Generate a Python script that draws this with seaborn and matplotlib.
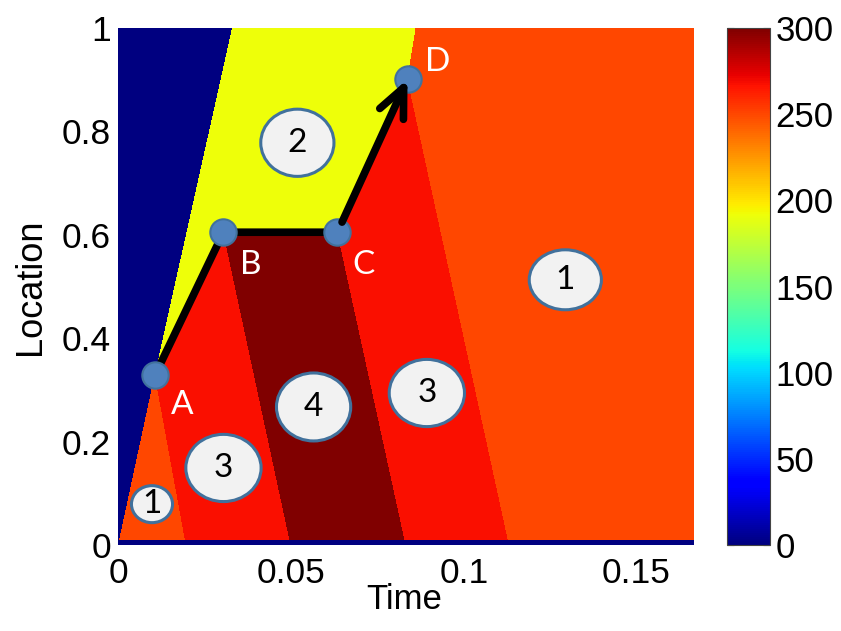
import numpy as np
import matplotlib
matplotlib.use("Agg")
import matplotlib.pyplot as plt
from matplotlib.patches import Ellipse
import seaborn as sns

# ------------------------------------------------------------------ data
T_MAX = 1 / 6
X_TICKS = [0, 0.05, 0.1, 0.15]
X_TICK_LABELS = ["0", "0.05", "0.1", "0.15"]
Y_TICKS = [0, 0.2, 0.4, 0.6, 0.8, 1.0]
Y_TICK_LABELS = ["0", "0.2", "0.4", "0.6", "0.8", "1"]
CBAR_TICKS = [0, 50, 100, 150, 200, 250, 300]

# trajectory points (time, location)
POINT_NAMES = ["A", "B", "C", "D"]
POINT_T = [0.0106, 0.0304, 0.0634, 0.0837]
POINT_Y = [0.329, 0.605, 0.605, 0.901]

# region values (0 = empty, 1..4 = numbered states)
REGION_VALUES = [0, 250, 192, 268, 300]

# boundary of the empty (blue) region
EMPTY_EDGE_T = [0.0, 0.0106, 0.033]
EMPTY_EDGE_Y = [0.0, 0.329, 1.0]
# feet (at location 0) of the lines that leave A, B, C, D downwards
FAN_FOOT_T = [0.0196, 0.0499, 0.0832, 0.1131]
# time where the line leaving D upwards hits location 1
D_TOP_T = 0.0861
BOTTOM_STRIP = 0.0097

# circled region labels
LABEL_TEXT = ["2", "1", "4", "3", "3", "1"]
LABEL_T = [0.0518, 0.1294, 0.0565, 0.0893, 0.0304, 0.0097]
LABEL_Y = [0.778, 0.513, 0.267, 0.294, 0.149, 0.079]
LABEL_W = [0.0212, 0.0209, 0.0215, 0.0218, 0.0218, 0.0119]
LABEL_H = [0.130, 0.116, 0.1315, 0.130, 0.130, 0.0716]

# point letters
LETTER_T = [0.0184, 0.0382, 0.0710, 0.0925]
LETTER_Y = [0.271, 0.542, 0.542, 0.934]

# ------------------------------------------------------------------ field
NT, NY = 576, 517
t = (np.arange(NT) + 0.5) * T_MAX / NT
y = (np.arange(NY) + 0.5) / NY
TT, YY = np.meshgrid(t, y)


def line_t(yy, tp, yp, foot):
    return foot + (tp - foot) * yy / yp


L = [line_t(YY, POINT_T[i], POINT_Y[i], FAN_FOOT_T[i]) for i in range(4)]
blue_edge = np.interp(YY, EMPTY_EDGE_Y, EMPTY_EDGE_T)
path_y = np.interp(TT, POINT_T, POINT_Y)
d_top = POINT_T[3] + (D_TOP_T - POINT_T[3]) * (YY - POINT_Y[3]) / (1 - POINT_Y[3])

region = np.where(TT < L[0], 1,
         np.where(TT < L[1], 3,
         np.where(TT < L[2], 4,
         np.where(TT < L[3], 3, 1))))
upper = YY >= POINT_Y[3]
above_path = (TT >= POINT_T[0]) & (TT <= POINT_T[3]) & (YY > path_y)
region = np.where(above_path & ~upper, 2, region)
region = np.where(upper, np.where(TT < d_top, 2, 1), region)
region = np.where(TT < blue_edge, 0, region)
region = np.where(YY < BOTTOM_STRIP, 0, region)
field = np.asarray(REGION_VALUES, dtype=float)[region]

# ------------------------------------------------------------------ plot
sns.set_style("white")
plt.rcParams["font.family"] = ["Liberation Sans", "DejaVu Sans"]
plt.rcParams["text.color"] = "black"
plt.rcParams["axes.labelcolor"] = "black"
plt.rcParams["xtick.color"] = "black"
plt.rcParams["ytick.color"] = "black"

fig = plt.figure(figsize=(8.41, 6.31), dpi=100)
ax = fig.add_axes([118.5 / 841, 86 / 631, 575.5 / 841, 517 / 631])
cax = fig.add_axes([727 / 841, 86 / 631, 43 / 841, 517 / 631])

sns.heatmap(field, ax=ax, cbar_ax=cax, cmap="jet", vmin=0, vmax=300,
            xticklabels=False, yticklabels=False, rasterized=True,
            cbar_kws={"ticks": CBAR_TICKS})
ax.set_xlim(0, NT)
ax.set_ylim(0, NY)


def X(v):
    return np.asarray(v) / T_MAX * NT


def Y(v):
    return np.asarray(v) * NY


ax.set_xticks(X(X_TICKS))
ax.set_xticklabels(X_TICK_LABELS)
ax.set_yticks(Y(Y_TICKS))
ax.set_yticklabels(Y_TICK_LABELS, rotation=0)
ax.tick_params(axis="x", length=0, pad=8.5, labelsize=25.5)
ax.tick_params(axis="y", length=0, pad=5.5, labelsize=25.5)
for s in ax.spines.values():
    s.set_visible(False)
ax.set_xlabel("Time", fontsize=25)
ax.set_ylabel("Location", fontsize=26)
ax.xaxis.set_label_coords(0.497, -0.0735)
ax.yaxis.set_label_coords(-0.122, 0.5)

# colorbar styling
cbar = ax.collections[0].colorbar
cbar.outline.set_linewidth(0.8)
cbar.outline.set_edgecolor("#444444")
cax.tick_params(axis="y", direction="in", length=5, width=0.8, left=True,
                right=True, labelsize=25, pad=4, colors="#333333",
                labelcolor="black")

# trajectory
ax.plot(X(POINT_T[:3]), Y(POINT_Y[:3]), color="black", lw=5.5,
        solid_capstyle="round", solid_joinstyle="round", zorder=3)
ax.plot(X(POINT_T), Y(POINT_Y), "o", ms=19, mfc="#4f81bd", mec="#41719c",
        mew=1.5, zorder=4, ls="none")
ax.annotate("", xy=(X(POINT_T[3]), Y(POINT_Y[3])),
            xytext=(X(POINT_T[2]), Y(POINT_Y[2])),
            arrowprops=dict(arrowstyle="->,head_length=0.4,head_width=0.18",
                            lw=5.5, color="black", shrinkA=8, shrinkB=0,
                            mutation_scale=52, capstyle="round",
                            joinstyle="round"),
            zorder=5)

for name, lt, ly in zip(POINT_NAMES, LETTER_T, LETTER_Y):
    ax.text(X(lt), Y(ly), name, color="white", fontsize=24, ha="center",
            va="center", family=["Lato", "DejaVu Sans"], zorder=6)

for txt, lt, ly, w, h in zip(LABEL_TEXT, LABEL_T, LABEL_Y, LABEL_W, LABEL_H):
    ax.add_patch(Ellipse((X(lt), Y(ly)), width=X(w), height=Y(h),
                         fc="#f2f2f2", ec="#41719c", lw=2.2, zorder=6))
    ax.text(X(lt), Y(ly), txt, color="black", fontsize=24, ha="center",
            va="center", family=["Lato", "DejaVu Sans"], zorder=7)

fig.savefig("out.png", dpi=100)
